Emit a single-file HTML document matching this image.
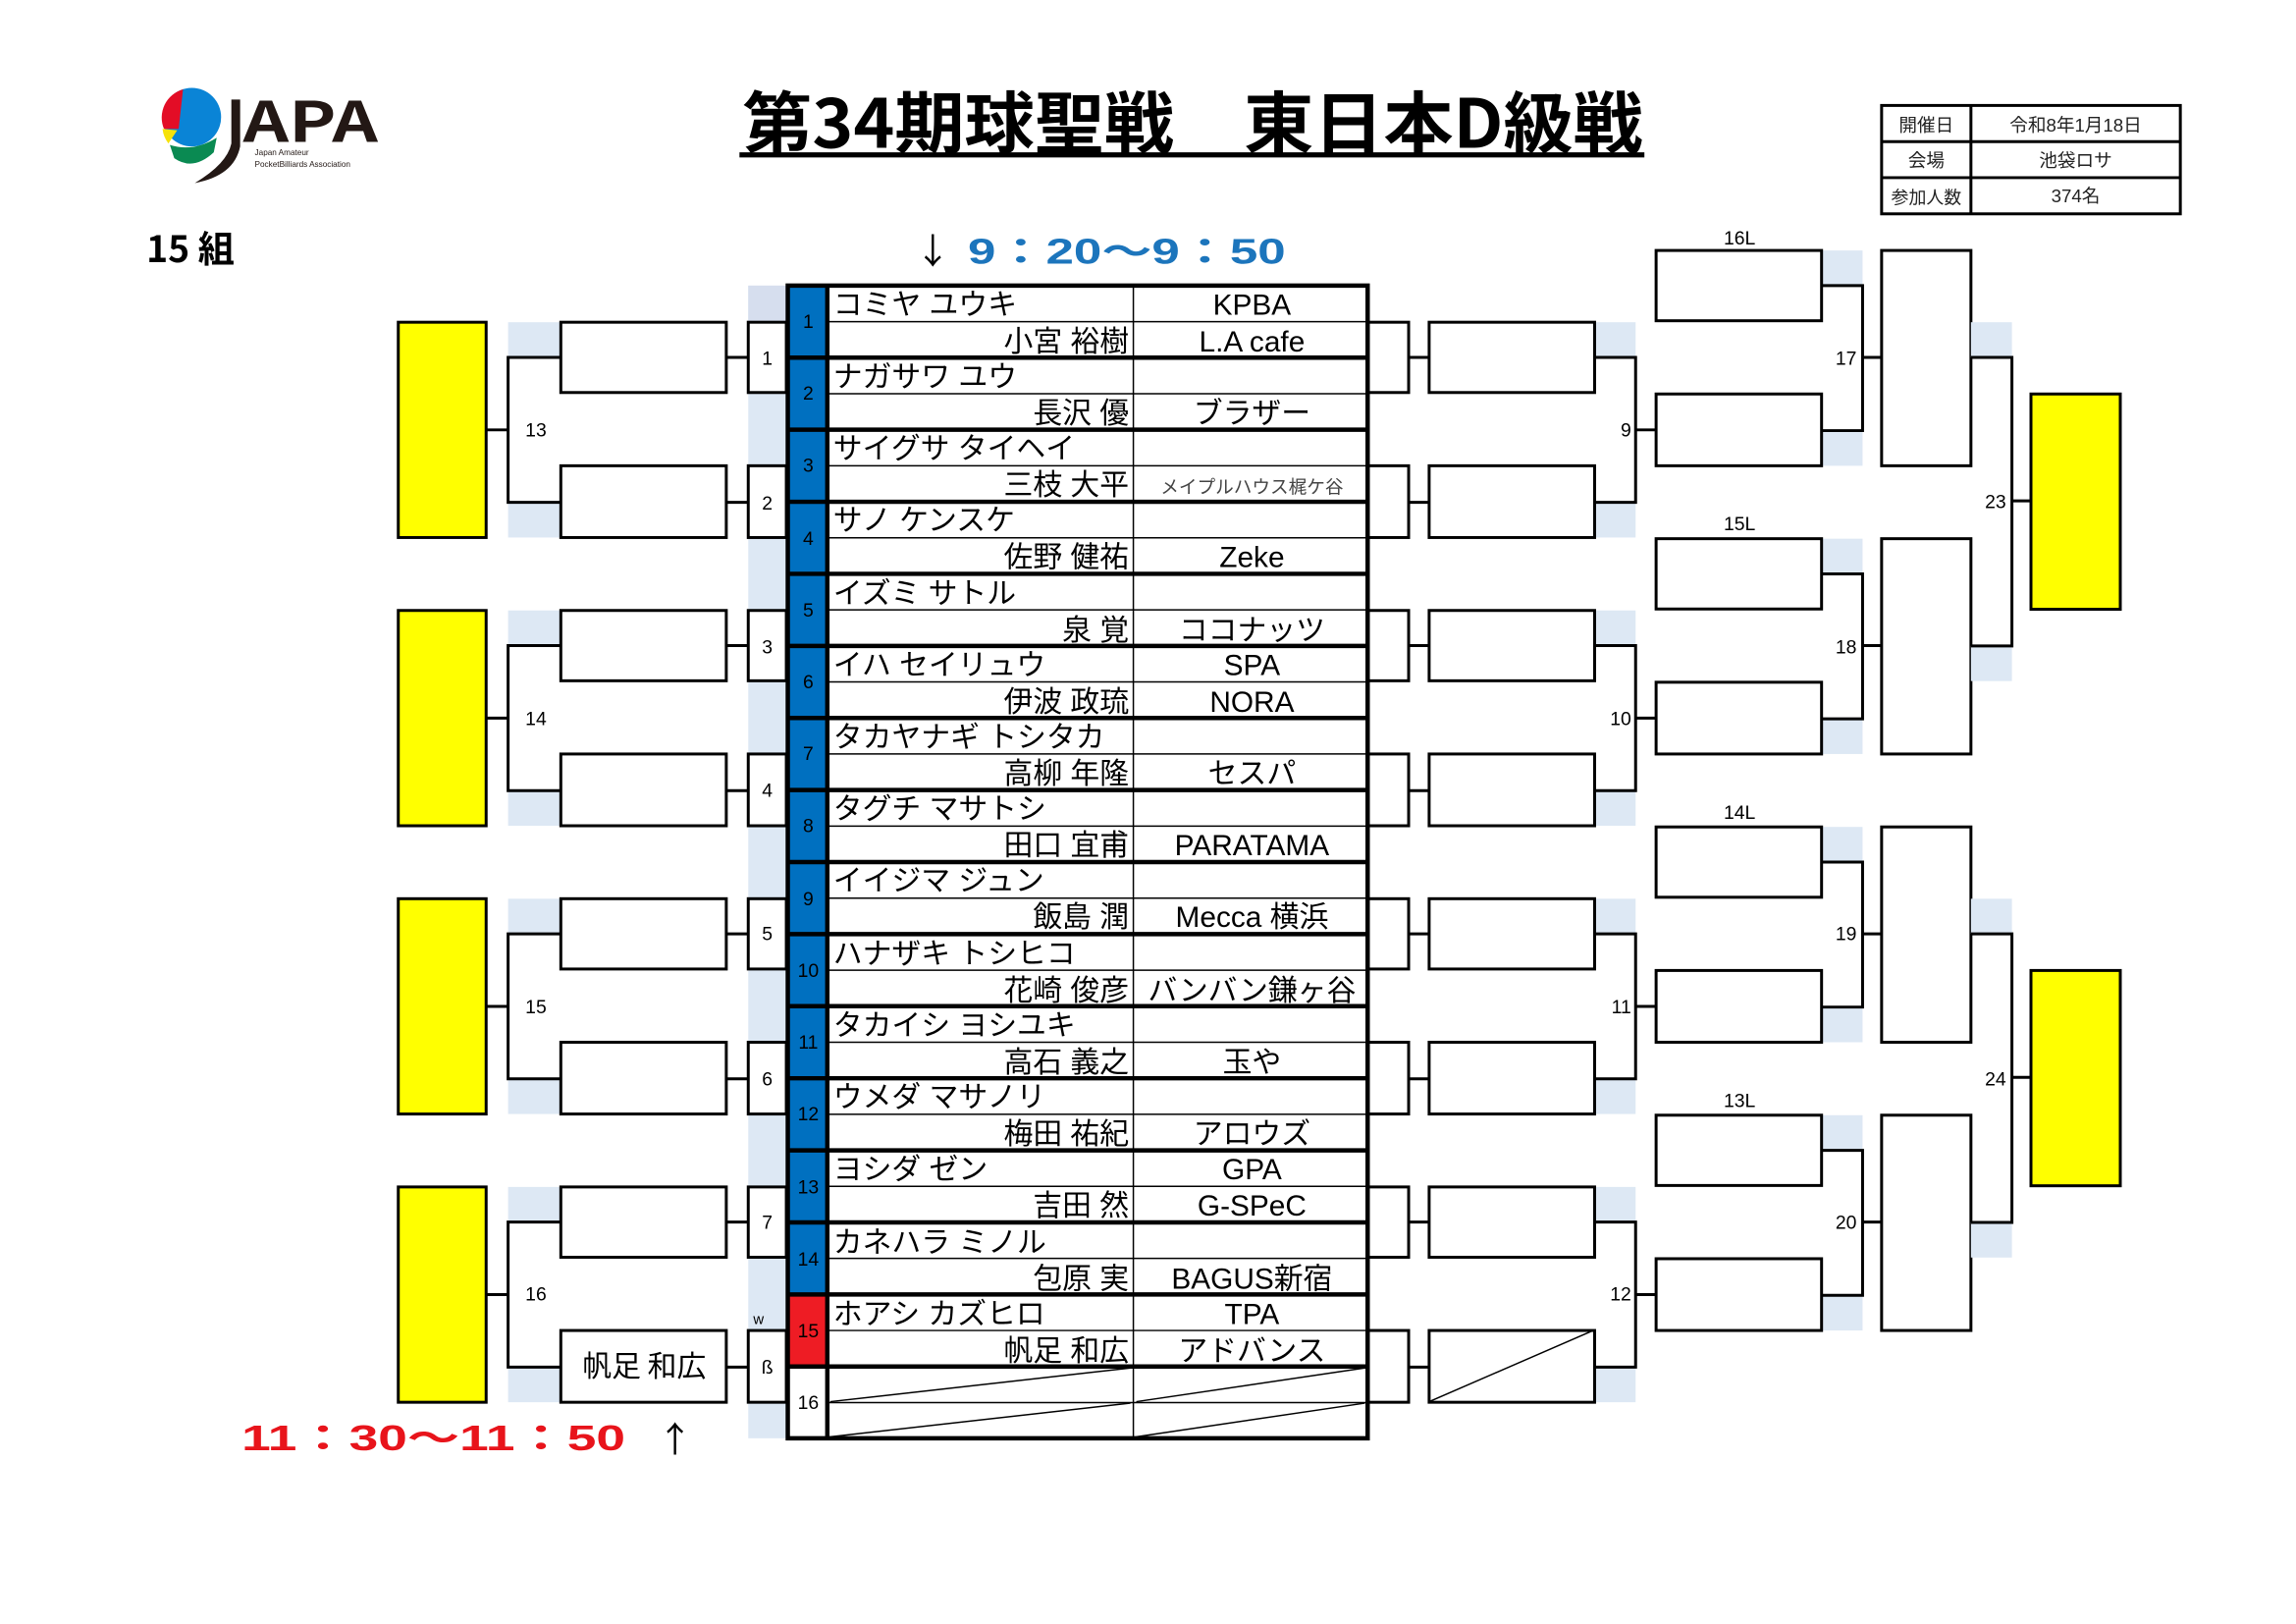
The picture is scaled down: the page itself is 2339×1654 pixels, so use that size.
<!DOCTYPE html>
<html><head><meta charset="utf-8"><style>
html,body{margin:0;padding:0;background:#fff;}
svg{display:block;}
text{font-family:"Liberation Sans","Noto Sans CJK JP",sans-serif;}
.n{font-family:"Liberation Sans Narrow","Liberation Sans","Noto Sans CJK JP",sans-serif;}
.j{font-family:"Noto Sans CJK JP",sans-serif;}
</style></head><body>
<svg width="2339" height="1654" viewBox="0 0 1568 1108.8" preserveAspectRatio="none" xmlns="http://www.w3.org/2000/svg">
<rect width="1568" height="1108.8" fill="#fff"/>

<!-- logo -->
<g>
<circle cx="131" cy="80" r="20" fill="#0a84d6"/>
<path d="M125,61 A20,20 0 0 0 112,88 L122,88 Z" fill="#e30d26"/>
<path d="M111,88 A20,20 0 0 0 115,98 L121,89 Z" fill="#f6e20a"/>
<path d="M116,99 Q132,104 148,94 L146,104 Q132,117 119,108 Z" fill="#0a8a52"/>
<path d="M158,68 L164,68 L164,100 Q160,120 133,125 Q155,112 158,98 Z" fill="#231815"/>
<text x="166" y="97" font-size="38" font-weight="bold" class="j" fill="#231815" textLength="92" lengthAdjust="spacingAndGlyphs">APA</text>
<text x="174" y="106" font-size="5.5" class="n" fill="#231815">Japan Amateur</text>
<text x="174" y="114" font-size="5.5" class="n" fill="#231815">PocketBilliards Association</text>
</g>

<!-- title -->
<text x="507" y="101" font-size="46" font-weight="bold" class="j" textLength="615" lengthAdjust="spacingAndGlyphs">第34期球聖戦　東日本D級戦</text>
<rect x="505" y="104" width="618" height="3.5" fill="#000"/>

<!-- info table -->
<g fill="none" stroke="#000" stroke-width="2">
<rect x="1285" y="72" width="204" height="74"/>
<line x1="1346" y1="72" x2="1346" y2="146"/>
<line x1="1285" y1="96.7" x2="1489" y2="96.7"/>
<line x1="1285" y1="121.3" x2="1489" y2="121.3"/>
</g>
<g font-size="12.5" class="j" text-anchor="middle" fill="#222">
<text x="1315.5" y="90">開催日</text><text x="1417.5" y="90">令和8年1月18日</text>
<text x="1315.5" y="114">会場</text><text x="1417.5" y="114">池袋ロサ</text>
<text x="1315.5" y="139" font-size="12">参加人数</text><text x="1417.5" y="138">374名</text>
</g>

<text x="100" y="179" font-size="25" font-weight="bold" class="j">15 組</text>

<text x="625" y="180" font-size="24" class="j">↓</text>
<text x="661" y="180" font-size="24" font-weight="bold" fill="#1c75bc" textLength="217" lengthAdjust="spacingAndGlyphs">9：20～9：50</text>

<text x="165" y="990" font-size="24" font-weight="bold" fill="#e8141b" textLength="262" lengthAdjust="spacingAndGlyphs">11：30～11：50</text>
<text x="449" y="991" font-size="24" class="j">↑</text>

<!-- light blue column left of table -->
<rect x="511" y="195" width="26" height="787" fill="#dde8f4"/>
<rect x="511" y="195" width="26" height="25" fill="#d6deee"/>

<!-- LEFT SIDE groups -->
<g id="lg">
<rect x="347" y="220" width="36" height="24" fill="#dde8f4"/>
<rect x="347" y="343" width="36" height="24" fill="#dde8f4"/>
<g stroke="#000" stroke-width="2" fill="none">
<rect x="272" y="220" width="60" height="147" fill="#ffff00"/>
<line x1="332" y1="293.5" x2="347" y2="293.5"/>
<path d="M383,244 H347 V343 H383"/>
<rect x="383" y="220" width="113" height="48" fill="#fff"/>
<rect x="383" y="318" width="113" height="49" fill="#fff"/>
<line x1="496" y1="244" x2="511" y2="244"/>
<line x1="496" y1="343" x2="511" y2="343"/>
<rect x="511" y="220" width="26" height="48" fill="#fff"/>
<rect x="511" y="318" width="26" height="49" fill="#fff"/>
</g>
</g>
<use href="#lg" y="196.8"/>
<use href="#lg" y="393.6"/>
<use href="#lg" y="590.4"/>
<g font-size="13" class="n" text-anchor="middle">
<text x="366" y="298">13</text><text x="366" y="495">14</text><text x="366" y="692">15</text><text x="366" y="888">16</text>
<text x="524" y="249">1</text><text x="524" y="348">2</text><text x="524" y="446">3</text><text x="524" y="544">4</text>
<text x="524" y="642">5</text><text x="524" y="741">6</text><text x="524" y="839">7</text><text x="524" y="938">ß</text>
<text x="518" y="904" font-size="10">w</text>
</g>
<text x="440" y="940" font-size="20" class="j" text-anchor="middle">帆足 和広</text>

<!-- RIGHT SIDE first-round groups -->
<g id="rg">
<rect x="1089" y="220" width="28" height="24" fill="#dde8f4"/>
<rect x="1089" y="343" width="28" height="24" fill="#dde8f4"/>
<g stroke="#000" stroke-width="2" fill="none">
<rect x="934" y="220" width="28" height="48" fill="#fff"/>
<rect x="934" y="318" width="28" height="49" fill="#fff"/>
<line x1="962" y1="244" x2="976" y2="244"/>
<line x1="962" y1="343" x2="976" y2="343"/>
<rect x="976" y="220" width="113" height="48" fill="#fff"/>
<rect x="976" y="318" width="113" height="49" fill="#fff"/>
<path d="M1089,244 H1117 V343 H1089"/>
<line x1="1117" y1="293.5" x2="1131" y2="293.5"/>
</g>
</g>
<use href="#rg" y="196.8"/>
<use href="#rg" y="393.6"/>
<use href="#rg" y="590.4"/>
<line x1="976" y1="957" x2="1089" y2="908" stroke="#000" stroke-width="1"/>

<!-- second column groups -->
<g id="sg">
<rect x="1244" y="171" width="28" height="24" fill="#dde8f4"/>
<rect x="1244" y="294" width="28" height="24" fill="#dde8f4"/>
<g stroke="#000" stroke-width="2" fill="none">
<rect x="1131" y="171" width="113" height="48" fill="#fff"/>
<rect x="1131" y="269" width="113" height="49" fill="#fff"/>
<path d="M1244,195 H1272 V294 H1244"/>
<line x1="1272" y1="244" x2="1285" y2="244"/>
<rect x="1285" y="171" width="61" height="147" fill="#fff"/>
</g>
</g>
<use href="#sg" y="196.8"/>
<use href="#sg" y="393.6"/>
<use href="#sg" y="590.4"/>

<!-- final groups -->
<g id="fg">
<rect x="1346" y="220" width="28" height="24" fill="#dde8f4"/>
<rect x="1346" y="441" width="28" height="24" fill="#dde8f4"/>
<g stroke="#000" stroke-width="2" fill="none">
<path d="M1346,244 H1374 V441 H1346"/>
<line x1="1374" y1="342" x2="1387" y2="342"/>
<rect x="1387" y="269" width="61" height="147" fill="#ffff00"/>
</g>
</g>
<use href="#fg" y="393.6"/>

<g font-size="13" class="n" text-anchor="end">
<text x="1114" y="298">9</text><text x="1114" y="495">10</text><text x="1114" y="692">11</text><text x="1114" y="888">12</text>
<text x="1268" y="249">17</text><text x="1268" y="446">18</text><text x="1268" y="642">19</text><text x="1268" y="839">20</text>
<text x="1370" y="347">23</text><text x="1370" y="741">24</text>
</g>
<g font-size="13" class="n" text-anchor="middle">
<text x="1188" y="167">16L</text><text x="1188" y="362">15L</text><text x="1188" y="559">14L</text><text x="1188" y="756">13L</text>
</g>

<!-- MAIN TABLE -->
<rect x="538" y="195" width="27" height="738" fill="#0070c0"/>
<rect x="538" y="883.8" width="27" height="49.2" fill="#ee1c24"/>
<g stroke="#000" stroke-width="1" fill="none">
<line x1="774" y1="195" x2="774" y2="982"/>
<line x1="565" y1="219.6" x2="934" y2="219.6"/><line x1="565" y1="268.8" x2="934" y2="268.8"/>
<line x1="565" y1="318" x2="934" y2="318"/><line x1="565" y1="367.2" x2="934" y2="367.2"/>
<line x1="565" y1="416.4" x2="934" y2="416.4"/><line x1="565" y1="465.6" x2="934" y2="465.6"/>
<line x1="565" y1="514.8" x2="934" y2="514.8"/><line x1="565" y1="564" x2="934" y2="564"/>
<line x1="565" y1="613.2" x2="934" y2="613.2"/><line x1="565" y1="662.4" x2="934" y2="662.4"/>
<line x1="565" y1="711.6" x2="934" y2="711.6"/><line x1="565" y1="760.8" x2="934" y2="760.8"/>
<line x1="565" y1="810" x2="934" y2="810"/><line x1="565" y1="859.2" x2="934" y2="859.2"/>
<line x1="565" y1="908.4" x2="934" y2="908.4"/><line x1="565" y1="957.6" x2="934" y2="957.6"/>
<line x1="567" y1="957" x2="772" y2="934"/><line x1="567" y1="981" x2="772" y2="958"/>
<line x1="776" y1="957" x2="932" y2="934"/><line x1="776" y1="981" x2="932" y2="958"/>
</g>
<g stroke="#000" stroke-width="3" fill="none">
<rect x="538" y="195" width="396" height="787"/>
<line x1="565" y1="195" x2="565" y2="982"/>
<line x1="538" y1="244.2" x2="934" y2="244.2"/><line x1="538" y1="293.4" x2="934" y2="293.4"/>
<line x1="538" y1="342.6" x2="934" y2="342.6"/><line x1="538" y1="391.8" x2="934" y2="391.8"/>
<line x1="538" y1="441" x2="934" y2="441"/><line x1="538" y1="490.2" x2="934" y2="490.2"/>
<line x1="538" y1="539.4" x2="934" y2="539.4"/><line x1="538" y1="588.6" x2="934" y2="588.6"/>
<line x1="538" y1="637.8" x2="934" y2="637.8"/><line x1="538" y1="687" x2="934" y2="687"/>
<line x1="538" y1="736.2" x2="934" y2="736.2"/><line x1="538" y1="785.4" x2="934" y2="785.4"/>
<line x1="538" y1="834.6" x2="934" y2="834.6"/><line x1="538" y1="883.8" x2="934" y2="883.8"/>
<line x1="538" y1="933" x2="934" y2="933"/>
</g>
<g font-size="13" class="n" text-anchor="middle" fill="#000">
<text x="552" y="224">1</text><text x="552" y="273">2</text><text x="552" y="322">3</text><text x="552" y="372">4</text>
<text x="552" y="421">5</text><text x="552" y="470">6</text><text x="552" y="519">7</text><text x="552" y="568">8</text>
<text x="552" y="618">9</text><text x="552" y="667">10</text><text x="552" y="716">11</text><text x="552" y="765">12</text>
<text x="552" y="815">13</text><text x="552" y="864">14</text><text x="552" y="913">15</text><text x="552" y="962">16</text>
</g>
<g font-size="20" class="j">
<text x="569" y="215">コミヤ ユウキ</text>
<text x="569" y="264">ナガサワ ユウ</text>
<text x="569" y="313">サイグサ タイヘイ</text>
<text x="569" y="362">サノ ケンスケ</text>
<text x="569" y="412">イズミ サトル</text>
<text x="569" y="461">イハ セイリュウ</text>
<text x="569" y="510">タカヤナギ トシタカ</text>
<text x="569" y="559">タグチ マサトシ</text>
<text x="569" y="608">イイジマ ジュン</text>
<text x="569" y="658">ハナザキ トシヒコ</text>
<text x="569" y="707">タカイシ ヨシユキ</text>
<text x="569" y="756">ウメダ マサノリ</text>
<text x="569" y="805">ヨシダ ゼン</text>
<text x="569" y="855">カネハラ ミノル</text>
<text x="569" y="904">ホアシ カズヒロ</text>
</g>
<g font-size="20" class="j" text-anchor="end">
<text x="771" y="240">小宮 裕樹</text>
<text x="771" y="289">長沢 優</text>
<text x="771" y="338">三枝 大平</text>
<text x="771" y="387">佐野 健祐</text>
<text x="771" y="437">泉 覚</text>
<text x="771" y="486">伊波 政琉</text>
<text x="771" y="535">高柳 年隆</text>
<text x="771" y="584">田口 宜甫</text>
<text x="771" y="633">飯島 潤</text>
<text x="771" y="683">花崎 俊彦</text>
<text x="771" y="732">高石 義之</text>
<text x="771" y="781">梅田 祐紀</text>
<text x="771" y="830">吉田 然</text>
<text x="771" y="880">包原 実</text>
<text x="771" y="929">帆足 和広</text>
</g>
<g font-size="20" class="n" text-anchor="middle">
<text x="855" y="215">KPBA</text>
<text x="855" y="240">L.A cafe</text>
<text x="855" y="289" class="j">ブラザー</text>
<text x="855" y="337" font-size="12.5" fill="#444" class="j">メイプルハウス梶ケ谷</text>
<text x="855" y="387">Zeke</text>
<text x="855" y="437" class="j">ココナッツ</text>
<text x="855" y="461">SPA</text>
<text x="855" y="486">NORA</text>
<text x="855" y="535" class="j">セスパ</text>
<text x="855" y="584">PARATAMA</text>
<text x="855" y="633">Mecca 横浜</text>
<text x="855" y="683" class="j">バンバン鎌ヶ谷</text>
<text x="855" y="732" class="j">玉や</text>
<text x="855" y="781" class="j">アロウズ</text>
<text x="855" y="805">GPA</text>
<text x="855" y="830">G-SPeC</text>
<text x="855" y="880">BAGUS新宿</text>
<text x="855" y="904">TPA</text>
<text x="855" y="929" class="j">アドバンス</text>
</g>
</svg>
</body></html>
